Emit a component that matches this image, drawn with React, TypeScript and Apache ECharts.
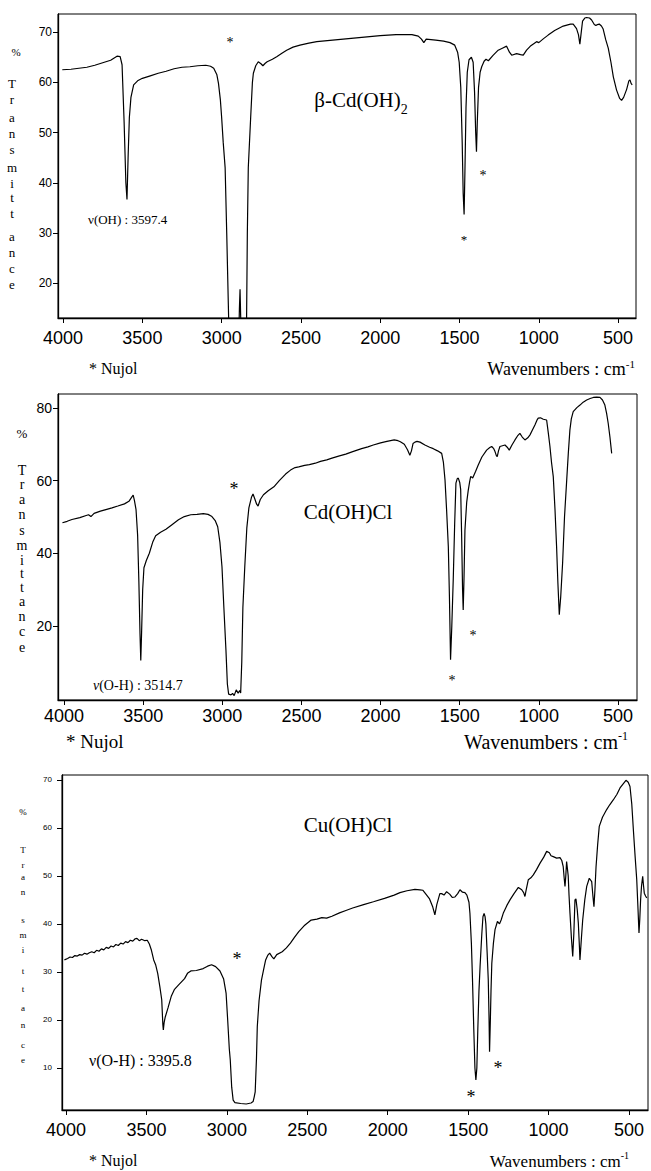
import React, { useEffect, useRef } from "react";
import * as echarts from "echarts";

// ---------- tick labels ----------
const xTicks = [4000, 3500, 3000, 2500, 2000, 1500, 1000, 500];
const yTicks1 = [20, 30, 40, 50, 60, 70];
const yTicks2 = [20, 40, 60, 80];
const yTicks3 = [10, 20, 30, 40, 50, 60, 70];

// ---------- β-Cd(OH)2 ----------
const cdOH2Wn = [4005, 3950, 3900, 3850, 3800, 3750, 3700, 3660, 3640, 3628, 3615, 3604, 3597, 3590, 3582, 3572, 3555, 3530, 3500, 3450, 3400, 3350, 3300, 3250, 3200, 3150, 3100, 3070, 3050, 3030, 3020, 3008, 3000, 2990, 2978, 2968, 2958, 2950, 2895, 2888, 2884, 2879, 2872, 2845, 2838, 2832, 2817, 2806, 2800, 2785, 2769, 2752, 2740, 2725, 2713, 2680, 2653, 2620, 2590, 2550, 2506, 2450, 2400, 2300, 2200, 2100, 2000, 1900, 1800, 1760, 1740, 1725, 1710, 1650, 1600, 1560, 1530, 1512, 1502, 1492, 1483, 1477, 1471, 1466, 1459, 1451, 1440, 1425, 1414, 1405, 1398, 1393, 1388, 1380, 1370, 1360, 1345, 1333, 1318, 1290, 1256, 1230, 1203, 1185, 1171, 1140, 1115, 1098, 1077, 1050, 1014, 1000, 970, 941, 900, 846, 800, 783, 762, 750, 741, 734, 724, 710, 699, 680, 667, 650, 640, 630, 619, 605, 594, 578, 562, 545, 530, 510, 490, 478, 465, 446, 432, 425, 418, 411];
const cdOH2T = [62.5, 62.6, 62.8, 63.0, 63.4, 63.9, 64.4, 65.2, 65.1, 63.5, 52, 40, 36.7, 45, 53, 57, 59.5, 60.3, 60.8, 61.3, 61.8, 62.2, 62.7, 63.0, 63.1, 63.3, 63.4, 63.2, 62.8, 61.5, 59.8, 56.5, 53, 48, 43, 30, 16, 5, 5, 15, 18.8, 12, 5, 5, 30, 43, 53, 60, 61.8, 63.3, 64.1, 63.7, 63.3, 63.8, 64.1, 64.6, 65.1, 65.8, 66.4, 67.0, 67.4, 67.8, 68.1, 68.4, 68.7, 69.0, 69.3, 69.5, 69.5, 69.2, 68.6, 67.9, 68.6, 68.4, 68.2, 67.9, 67.4, 66, 64, 59, 48, 38, 33.7, 42, 55, 62, 64.5, 65.0, 64, 58, 50, 46.2, 52, 59, 62, 63.1, 64.2, 64.6, 64.3, 65.3, 66.4, 66.8, 67.2, 66, 65.4, 65.7, 65.5, 65.4, 66.4, 67.3, 68.1, 67.9, 68.7, 69.4, 70.3, 71.2, 71.6, 71.6, 70.7, 69.5, 67.6, 69.5, 72.2, 72.8, 72.9, 72.8, 72.4, 71.5, 71.3, 71.5, 71.6, 71.2, 70.6, 68.5, 66.8, 64, 61.1, 58.5, 56.8, 56.4, 57, 58.6, 60.3, 60.5, 59.8, 59.5];

// ---------- Cd(OH)Cl ----------
const cdOHClWn = [4010, 3980, 3950, 3900, 3860, 3845, 3830, 3810, 3770, 3730, 3697, 3660, 3618, 3590, 3570, 3563, 3555, 3545, 3535, 3527, 3520, 3515, 3510, 3503, 3495, 3480, 3461, 3440, 3421, 3390, 3356, 3320, 3277, 3240, 3199, 3160, 3120, 3090, 3068, 3045, 3029, 3015, 3002, 2990, 2977, 2968, 2960, 2945, 2935, 2925, 2912, 2900, 2890, 2884, 2877, 2870, 2858, 2845, 2832, 2815, 2806, 2795, 2783, 2774, 2760, 2740, 2710, 2674, 2640, 2600, 2569, 2540, 2517, 2480, 2450, 2412, 2380, 2340, 2307, 2260, 2220, 2176, 2120, 2080, 2046, 2000, 1960, 1914, 1890, 1875, 1850, 1830, 1815, 1805, 1795, 1783, 1770, 1751, 1720, 1690, 1667, 1640, 1614, 1603, 1593, 1583, 1572, 1565, 1558, 1550, 1541, 1532, 1524, 1516, 1509, 1500, 1494, 1488, 1482, 1478, 1473, 1467, 1456, 1446, 1438, 1431, 1425, 1418, 1400, 1383, 1360, 1330, 1310, 1298, 1285, 1277, 1268, 1263, 1255, 1246, 1230, 1214, 1200, 1187, 1170, 1151, 1135, 1120, 1105, 1088, 1070, 1056, 1040, 1025, 1010, 1004, 990, 972, 951, 940, 930, 920, 909, 898, 888, 880, 871, 862, 850, 838, 824, 814, 804, 795, 783, 760, 740, 720, 698, 676, 656, 635, 614, 598, 583, 572, 562, 551, 540];
const cdOHClT = [48.4, 48.8, 49.3, 49.8, 50.4, 50.6, 50.1, 51.0, 51.6, 52.1, 52.5, 53.0, 53.6, 54.3, 55.6, 56.0, 54.5, 52, 45, 32, 18, 10.5, 18, 30, 36, 38, 40, 43, 44.8, 45.8, 46.6, 47.8, 49.2, 50.1, 50.6, 50.7, 50.9, 50.7, 50.2, 49, 47.3, 43, 36.3, 25, 13.4, 4, 1.2, 1.0, 1.4, 0.8, 2.4, 1.5, 2.2, 1.5, 10, 25, 36.3, 47, 52.5, 55.5, 56.3, 55, 53.5, 53.0, 54.8, 56.1, 57.2, 58.3, 60.0, 61.8, 62.9, 63.6, 63.8, 64.2, 64.4, 64.8, 65.3, 65.7, 66.2, 66.8, 67.3, 68.0, 68.8, 69.3, 69.8, 70.4, 70.8, 71.2, 71.0, 70.7, 70.0, 68.5, 67.0, 68.2, 70.2, 70.6, 70.8, 70.6, 69.8, 69.2, 68.8, 68.2, 67.5, 65, 60.2, 52, 41.8, 28, 10.7, 20, 32.7, 48, 59.3, 60.5, 60.7, 59.5, 57.6, 45, 30, 24.4, 33, 46.4, 54, 57.4, 59.5, 61.1, 61, 60.7, 62.5, 64.3, 66.5, 68.4, 69.1, 69.4, 68.8, 68.0, 66.8, 66.6, 68.2, 69.4, 69.6, 69.8, 69.2, 68.4, 69.8, 71.2, 72.3, 73.0, 72.0, 71.2, 71.8, 72.6, 74.0, 75.3, 76.8, 77.2, 77.3, 76.9, 76.7, 73, 69.4, 65, 61.1, 52, 41.8, 32, 23.1, 28, 37.3, 50, 60.2, 67.5, 73.9, 77, 79.0, 80.1, 80.8, 81.6, 82.2, 82.6, 82.9, 83.0, 82.9, 82.2, 80.8, 78.5, 75.8, 72, 67.5];

// ---------- Cu(OH)Cl ----------
const cuOHClWn = [4010, 3990, 3975, 3960, 3945, 3930, 3915, 3900, 3885, 3870, 3855, 3840, 3825, 3810, 3795, 3780, 3765, 3750, 3735, 3720, 3705, 3690, 3675, 3660, 3645, 3630, 3615, 3600, 3585, 3570, 3559, 3545, 3530, 3510, 3495, 3482, 3469, 3455, 3443, 3430, 3417, 3405, 3398, 3395, 3390, 3384, 3366, 3345, 3327, 3300, 3263, 3245, 3224, 3190, 3147, 3120, 3095, 3070, 3043, 3020, 3005, 2995, 2985, 2979, 2970, 2961, 2950, 2914, 2880, 2850, 2837, 2830, 2824, 2816, 2811, 2800, 2785, 2772, 2759, 2745, 2734, 2720, 2708, 2690, 2656, 2630, 2605, 2580, 2553, 2520, 2476, 2440, 2410, 2380, 2347, 2300, 2260, 2218, 2150, 2089, 2020, 1960, 1924, 1880, 1831, 1800, 1781, 1758, 1740, 1720, 1707, 1695, 1676, 1665, 1650, 1634, 1615, 1599, 1582, 1565, 1551, 1535, 1520, 1508, 1495, 1489, 1480, 1473, 1465, 1458, 1452, 1446, 1440, 1433, 1426, 1415, 1408, 1401, 1395, 1390, 1382, 1375, 1370, 1367, 1362, 1358, 1353, 1343, 1333, 1318, 1305, 1295, 1282, 1260, 1240, 1215, 1188, 1167, 1155, 1147, 1140, 1126, 1110, 1095, 1075, 1054, 1030, 1012, 995, 985, 971, 950, 929, 918, 909, 903, 898, 893, 888, 883, 878, 873, 867, 858, 850, 843, 836, 830, 822, 815, 808, 805, 796, 788, 775, 763, 747, 732, 725, 718, 712, 705, 695, 685, 665, 639, 620, 598, 575, 556, 540, 519, 505, 494, 483, 473, 462, 452, 444, 438, 433, 428, 422, 415, 410, 405, 397, 390];
const cuOHClT = [32.5, 32.8, 33.1, 33.0, 33.4, 33.3, 33.6, 33.5, 33.9, 33.7, 34.0, 34.2, 34.0, 34.5, 34.3, 34.8, 34.6, 35.1, 34.9, 35.4, 35.2, 35.7, 35.5, 36.0, 35.8, 36.3, 36.1, 36.6, 36.4, 36.9, 37.0, 36.5, 36.8, 36.5, 36.6, 35.8, 34.5, 32.5, 31.5, 29.7, 27, 24.2, 19, 17.9, 19.5, 20.5, 22.5, 25.0, 26.3, 27.3, 28.6, 29.7, 30.2, 30.3, 30.7, 31.2, 31.5, 31.1, 30.2, 28.5, 25.6, 20, 14, 11.7, 6, 3.3, 2.8, 2.6, 2.5, 2.7, 3.0, 4, 5, 12, 18.6, 24, 28.3, 30.4, 32.5, 33.5, 33.9, 33.2, 32.7, 33.6, 34.2, 35.0, 36.0, 37.2, 38.4, 39.6, 40.8, 41.0, 41.3, 41.2, 41.6, 42.3, 42.8, 43.3, 44.0, 44.6, 45.3, 46.0, 46.5, 46.9, 47.2, 47.1, 47.0, 46.0, 45.2, 43.5, 41.9, 44, 46.3, 46.3, 46.0, 46.7, 46.2, 45.5, 45.6, 46.3, 47.1, 46.6, 46.5, 46.0, 44.5, 42.2, 36, 28.3, 18, 10, 7.5, 10, 18, 26, 31.1, 38, 41.5, 42.2, 41.5, 40, 34, 28.3, 20, 13.4, 20, 26, 31.8, 36, 38.8, 40.5, 40.0, 40.8, 42.2, 43.8, 45.0, 46.3, 47.6, 47.1, 46.5, 45.7, 47, 49.2, 49.6, 50.2, 51.3, 52.6, 53.9, 55.1, 54.8, 54.2, 54.0, 53.7, 53.8, 53.2, 51.9, 49.5, 47.8, 50, 53.0, 51.5, 50.0, 46, 42.2, 37, 33.2, 38, 45.0, 45.2, 43, 40.1, 35, 32.5, 37, 40.8, 45, 47.8, 49.5, 48.8, 46, 43.6, 47, 51.9, 56.5, 60.3, 62.2, 63.8, 64.8, 65.8, 67.0, 68.3, 69.0, 69.9, 69.5, 68.6, 65, 59.6, 54, 49.2, 43, 38.1, 41, 45.0, 48, 49.9, 48, 46.4, 45.8, 45.4];

const pair = (wn: number[], t: number[]) => wn.map((w, i) => [w, t[i]]);

const SANS = "Liberation Sans, Arial, sans-serif";
const SERIF = "Liberation Serif, Times New Roman, serif";
const TRANS = "Transmittance".split("");

function txt(x: number, y: number, text: string, size: number, align = "center", extra: any = {}) {
  return {
    type: "text",
    x,
    y,
    style: {
      text,
      fill: "#000",
      font: `${size}px ${SERIF}`,
      textAlign: align,
      textVerticalAlign: "middle",
      ...extra,
    },
  };
}

function vertical(x: number, ys: number[], size: number) {
  return TRANS.map((c, i) => txt(x, ys[i], c, size));
}

function waveLabel(xRight: number, y: number, size: number) {
  return {
    type: "text",
    x: xRight,
    y,
    style: {
      text: "{a|Wavenumbers : cm}{s|-1}",
      textAlign: "right",
      textVerticalAlign: "middle",
      fill: "#000",
      rich: {
        a: { font: `${size}px ${SERIF}`, fill: "#000", verticalAlign: "bottom", lineHeight: size + 2 },
        s: { font: `${Math.round(size * 0.6)}px ${SERIF}`, fill: "#000", verticalAlign: "top", lineHeight: size + 2 },
      },
    },
  };
}

function nuLabel(x: number, y: number, rest: string, size: number, italic: boolean) {
  return {
    type: "text",
    x,
    y,
    style: {
      text: `{n|ν}{a|${rest}}`,
      textAlign: "left",
      textVerticalAlign: "middle",
      fill: "#000",
      rich: {
        n: { font: `${italic ? "italic " : ""}${size}px ${SERIF}`, fill: "#000" },
        a: { font: `${size}px ${SERIF}`, fill: "#000" },
      },
    },
  };
}

function formula(cx: number, cy: number, main: string, sub: string, size: number) {
  return {
    type: "text",
    x: cx,
    y: cy,
    style: {
      text: sub ? `{a|${main}}{s|${sub}}` : `{a|${main}}`,
      textAlign: "center",
      textVerticalAlign: "middle",
      fill: "#000",
      rich: {
        a: { font: `${size}px ${SERIF}`, fill: "#000", verticalAlign: "top", lineHeight: size + 6 },
        s: { font: `${Math.round(size * 0.68)}px ${SERIF}`, fill: "#000", verticalAlign: "bottom", lineHeight: size + 6 },
      },
    },
  };
}

export default function App() {
  const ref = useRef<HTMLDivElement>(null);

  useEffect(() => {
    if (!ref.current) return;
    const chart = echarts.init(ref.current, null, { renderer: "svg" });

    const plain = (v: number) => String(v);

    const xAxisBase = (min: number, max: number, grid: number, size: number, margin: number) => ({
      type: "value",
      gridIndex: grid,
      inverse: true,
      min,
      max,
      axisLine: { show: true, onZero: false, lineStyle: { color: "#000", width: 1.3 } },
      axisTick: { show: true, length: 5, lineStyle: { color: "#000" }, customValues: xTicks },
      axisLabel: { color: "#000", fontFamily: SANS, fontSize: size, margin, customValues: xTicks, formatter: plain },
      splitLine: { show: false },
    });

    const yAxisBase = (min: number, max: number, grid: number, ticks: number[], size: number, margin: number) => ({
      type: "value",
      gridIndex: grid,
      min,
      max,
      axisLine: { show: true, onZero: false, lineStyle: { color: "#000", width: 1.3 } },
      axisTick: { show: true, length: 5, lineStyle: { color: "#000" }, customValues: ticks },
      axisLabel: { color: "#000", fontFamily: SANS, fontSize: size, margin, customValues: ticks, formatter: plain },
      splitLine: { show: false },
    });

    const lineSeries = (data: number[][], idx: number) => ({
      type: "line",
      xAxisIndex: idx,
      yAxisIndex: idx,
      data,
      showSymbol: false,
      symbol: "none",
      clip: true,
      lineStyle: { color: "#000", width: 1.2 },
      silent: true,
    });

    const graphics: any[] = [
      // panel 1
      txt(16, 52, "%", 11),
      ...vertical(12, [83, 99, 117, 133, 149, 167, 183, 197, 213, 236, 252, 268, 284], 13),
      formula(361, 103, "β-Cd(OH)", "2", 21),
      txt(230, 42, "*", 14),
      txt(483, 175, "*", 14),
      txt(464, 239, "*", 13),
      nuLabel(88, 219, "(OH) : 3597.4", 13, false),
      txt(89, 368, "* Nujol", 16, "left"),
      waveLabel(635, 368, 18),
      // panel 2
      txt(22, 433, "%", 13),
      ...vertical(22, [470, 484, 499, 514, 530, 545, 560, 573, 587, 601, 616, 631, 647], 14),
      formula(348, 515, "Cd(OH)Cl", "", 21),
      txt(234, 489, "*", 18),
      txt(452, 680, "*", 14),
      txt(473, 635, "*", 14),
      nuLabel(93, 685, "(O-H) : 3514.7", 14, true),
      txt(66, 741, "* Nujol", 19, "left"),
      waveLabel(628, 741, 20),
      // panel 3
      txt(23, 812, "%", 9),
      ...vertical(23, [850, 865, 877, 892, 920, 935, 950, 971, 989, 1008, 1025, 1045, 1060], 9),
      formula(348, 828, "Cu(OH)Cl", "", 21),
      txt(237, 959, "*", 18),
      txt(471, 1097, "*", 18),
      txt(498, 1068, "*", 18),
      nuLabel(89, 1060, "(O-H) : 3395.8", 16, false),
      txt(89, 1160, "* Nujol", 16, "left"),
      waveLabel(629, 1160, 17),
    ];

    chart.setOption({
      animation: false,
      backgroundColor: "#fff",
      grid: [
        { left: 58, top: 14, width: 578, height: 304, show: true, borderColor: "#000", borderWidth: 1, containLabel: false },
        { left: 58, top: 394, width: 579, height: 306, show: true, borderColor: "#000", borderWidth: 1, containLabel: false },
        { left: 62, top: 775, width: 586, height: 335, show: true, borderColor: "#000", borderWidth: 1, containLabel: false },
      ],
      xAxis: [
        xAxisBase(387, 4032, 0, 18, 11),
        xAxisBase(380, 4038, 1, 18, 7),
        xAxisBase(382, 4025, 2, 18, 11),
      ],
      yAxis: [
        yAxisBase(13.1, 73.6, 0, yTicks1, 12, 6),
        yAxisBase(-0.4, 83.85, 1, yTicks2, 14, 6),
        yAxisBase(1.25, 71, 2, yTicks3, 8, 10),
      ],
      series: [
        lineSeries(pair(cdOH2Wn, cdOH2T), 0),
        lineSeries(pair(cdOHClWn, cdOHClT), 1),
        lineSeries(pair(cuOHClWn, cuOHClT), 2),
      ],
      graphic: graphics,
    });

    return () => chart.dispose();
  }, []);

  return (
    <div
      ref={ref}
      style={{ position: "absolute", left: 0, top: 0, width: 651, height: 1171, background: "#fff" }}
    />
  );
}
